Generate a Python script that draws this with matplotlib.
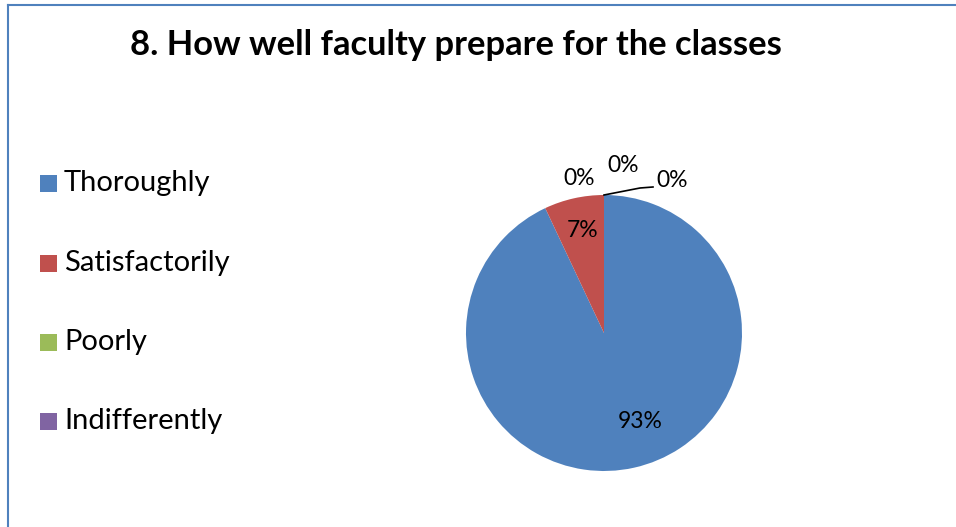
import matplotlib
matplotlib.use("Agg")
import matplotlib.pyplot as plt
from matplotlib.patches import Rectangle
from matplotlib.lines import Line2D

title = "8. How well faculty prepare for the classes"
# the source chart shows three "0%" labels; the fifth category is unnamed and
# has no legend entry
categories = ["Thoroughly", "Satisfactorily", "Poorly", "Indifferently", ""]
values = [93, 7, 0, 0, 0]
colors = ["#4F81BD", "#C0504D", "#9BBB59", "#8064A2", "#4BACC6"]

W, H = 956, 527
fig = plt.figure(figsize=(W / 100, H / 100), dpi=100)
fig.patch.set_facecolor("white")
FONT = "Lato"

# border (left and top)
fig.add_artist(Line2D([8 / W, 8 / W], [0, 1 - 5 / H], color="#4F81BD", lw=1.5))
fig.add_artist(Line2D([8 / W, 1], [1 - 5 / H, 1 - 5 / H], color="#4F81BD", lw=1.5))

fig.text(456 / W, 1 - 45 / H, title, ha="center", va="center",
         fontsize=24.8, fontweight="bold", family=FONT)

# pie axes
cx, cy, r = 604, 333, 138
ax = fig.add_axes([(cx - r) / W, 1 - (cy + r) / H, 2 * r / W, 2 * r / H])
total = sum(values)
wedges, _ = ax.pie(values, colors=colors, startangle=90, counterclock=False,
                   radius=1.0, wedgeprops=dict(linewidth=0))
ax.set_xlim(-1, 1)
ax.set_ylim(-1, 1)
ax.set_aspect("equal")
ax.axis("off")

pcts = [f"{round(100 * v / total)}%" for v in values]
LFS = 16.5
# label positions in data coordinates (radius units)
label_pos = [(36 / r, -89 / r), (-21 / r, 103 / r), (-25 / r, 155 / r),
             (19 / r, 168 / r), (52 / r, 153 / r)]
aligns = ["center", "center", "center", "center", "left"]
for txt, (lx, ly), ha in zip(pcts, label_pos, aligns):
    ax.text(lx, ly, txt, ha=ha, va="center", fontsize=LFS, family=FONT,
            color="black", clip_on=False)
# leader line for the last label
ax.plot([0, 36 / r, 49 / r], [1.0, 145 / r, 146 / r], color="black", lw=1.2, clip_on=False)

# legend
leg_y = [183, 263, 342, 421]
named = [(n, c) for n, c in zip(categories, colors) if n]
for (name, col), y in zip(named, leg_y):
    fig.add_artist(Rectangle((40 / W, 1 - (y + 8.5) / H), 17 / W, 17 / H,
                             facecolor=col, edgecolor="none", transform=fig.transFigure))
    fig.text(64 / W, 1 - y / H, name, ha="left", va="center", fontsize=21, family=FONT)

fig.savefig("out.png", dpi=100)
